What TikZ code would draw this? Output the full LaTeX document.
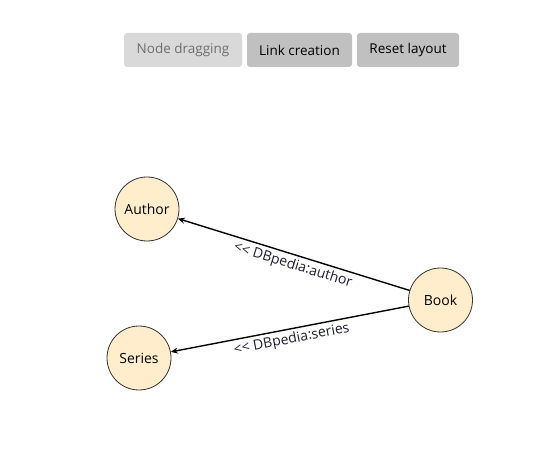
\documentclass[tikz,border=0pt]{standalone}
\usepackage{fontspec}
\setmainfont{Open Sans}
\usetikzlibrary{arrows.meta}
\definecolor{nodefill}{RGB}{255,237,204}
\definecolor{btnon}{RGB}{217,217,217}
\definecolor{btnoff}{RGB}{192,192,192}
\definecolor{btntxt}{RGB}{110,110,110}
\definecolor{lbltxt}{RGB}{30,30,50}
\begin{document}
\begin{tikzpicture}[x=1pt,y=1pt,
  cls/.style={circle,draw=black!80,line width=0.8pt,fill=nodefill,minimum size=64pt,inner sep=0pt,font=\fontsize{14}{16}\selectfont},
  btn/.style={rounded corners=3pt,fill=btnoff,minimum height=34pt,inner sep=0pt,font=\fontsize{13.5}{16}\selectfont},
  rel/.style={line width=1.4pt,-{Stealth[length=7pt,width=6pt]}},
  lbl/.style={font=\fontsize{14}{16}\selectfont,text=lbltxt,sloped,inner sep=1pt}]
\useasboundingbox (0,0) rectangle (560,472);
\node[btn,fill=btnon,text=btntxt,minimum width=118pt] (b1) at (183,422) {Node dragging};
\node[btn,minimum width=105pt] (b2) at (299.5,422) {Link creation};
\node[btn,minimum width=102pt] (b3) at (408,422) {Reset layout};
\node[cls] (author) at (147,263) {Author};
\node[cls] (series) at (139,114) {Series};
\node[cls] (book) at (440.5,172) {Book};
\draw[rel] (book) -- node[lbl,pos=0.49,below=2pt] {{<}{<} DBpedia:author} (author);
\draw[rel] (book) -- node[lbl,pos=0.50,below=2pt] {{<}{<} DBpedia:series} (series);
\end{tikzpicture}
\end{document}
